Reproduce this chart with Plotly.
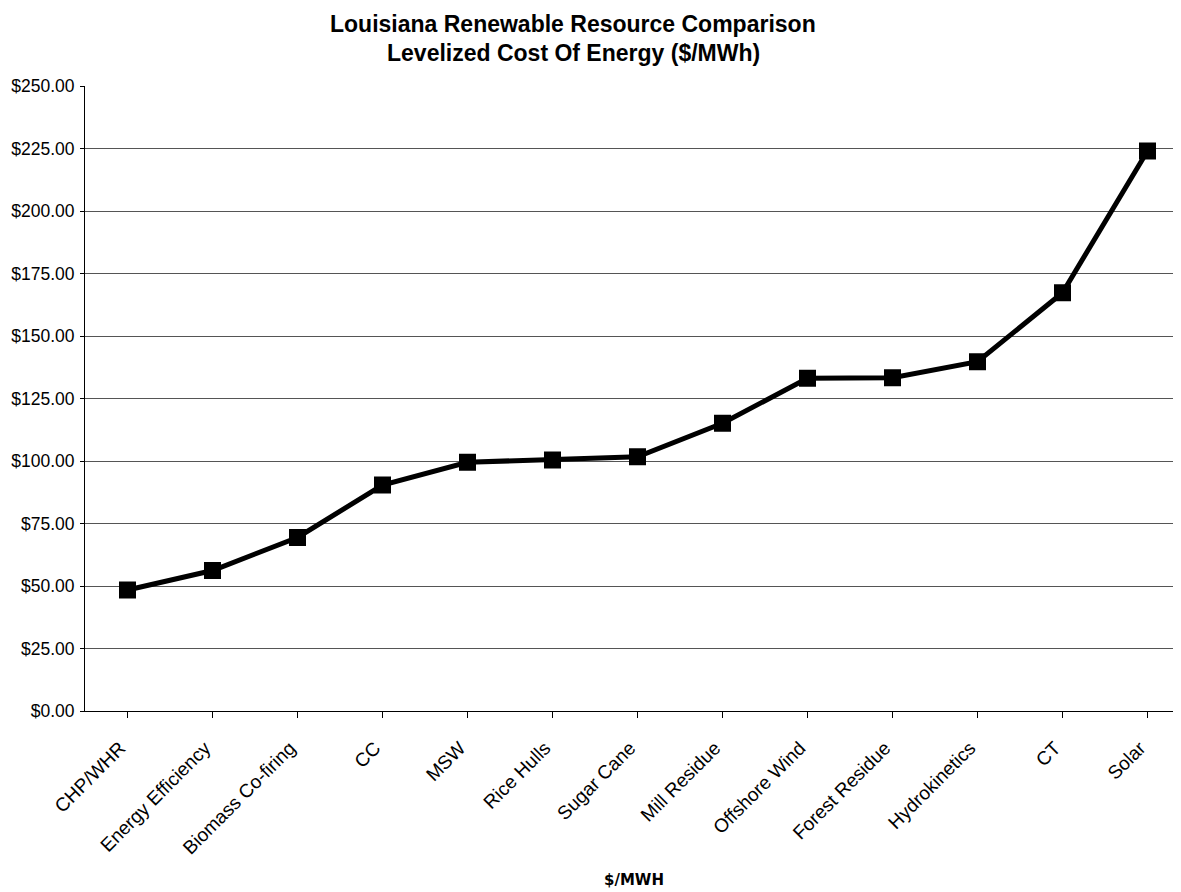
import plotly.graph_objects as go

categories = ["CHP/WHR", "Energy Efficiency", "Biomass Co-firing", "CC", "MSW",
              "Rice Hulls", "Sugar Cane", "Mill Residue", "Offshore Wind",
              "Forest Residue", "Hydrokinetics", "CT", "Solar"]
values = [48.4, 56.2, 69.4, 90.4, 99.5, 100.4, 101.7, 115.1, 133.1, 133.3, 139.7, 167.3, 224.0]
y_ticks = [0, 25, 50, 75, 100, 125, 150, 175, 200, 225, 250]
y_tick_labels = ["$0.00", "$25.00", "$50.00", "$75.00", "$100.00", "$125.00",
                 "$150.00", "$175.00", "$200.00", "$225.00", "$250.00"]

title_lines = ["Louisiana Renewable Resource Comparison", "Levelized Cost Of Energy ($/MWh)"]
x_title = "$/MWH"

# page body has an 8px default margin; size the figure to fit the window
OFF = 8
W, H = 1181 - OFF, 892 - OFF
L, R, T, B = 85 - OFF, 0, 86 - OFF, 892 - 711
pw = W - L - R
ph = H - T - B
right_edge = pw / 85.0 - 0.5


def px_y(page_y):
    return (711 - page_y) / ph


def px_x(page_x):
    return (page_x - 85) / pw


fig = go.Figure()
fig.add_trace(go.Scatter(
    x=list(range(len(categories))), y=values, mode="lines+markers",
    line=dict(color="black", width=5),
    marker=dict(symbol="square", size=17, color="black"),
    showlegend=False, cliponaxis=False,
))

fig.update_layout(
    width=W, height=H,
    margin=dict(l=L, r=R, t=T, b=B, pad=0, autoexpand=False),
    paper_bgcolor="white", plot_bgcolor="white",
    font=dict(family="Liberation Sans, Arial, sans-serif", size=17, color="black"),
    xaxis=dict(
        range=[-0.5, right_edge], automargin=False,
        tickmode="array", tickvals=list(range(len(categories))),
        ticktext=[c + "\u00a0\u00a0" for c in categories],
        tickangle=-45, ticks="outside", ticklen=6, tickcolor="black",
        showgrid=False, showline=True, linecolor="black", linewidth=1,
        zeroline=False, tickfont=dict(size=19), tickson="boundaries",
        ticklabelstandoff=4,
    ),
    yaxis=dict(
        range=[0, 250], automargin=False,
        tickmode="array", tickvals=y_ticks, ticktext=y_tick_labels,
        ticks="outside", ticklen=4, tickcolor="black",
        showgrid=True, gridcolor="#555555", gridwidth=1,
        showline=True, linecolor="black", linewidth=1,
        zeroline=False, tickfont=dict(size=17.5), ticklabelstandoff=2,
    ),
)

fig.add_annotation(text="<b>" + title_lines[0] + "</b>", xref="paper", yref="paper",
                   x=px_x(573), y=px_y(24), showarrow=False,
                   xanchor="center", yanchor="middle",
                   font=dict(size=23, family="Liberation Sans, Arial, sans-serif"))
fig.add_annotation(text="<b>" + title_lines[1] + "</b>", xref="paper", yref="paper",
                   x=px_x(573), y=px_y(53), showarrow=False,
                   xanchor="center", yanchor="middle",
                   font=dict(size=23, family="Liberation Sans, Arial, sans-serif"))
fig.add_annotation(text="<b>" + x_title + "</b>", xref="paper", yref="paper",
                   x=px_x(634), y=px_y(880), showarrow=False,
                   xanchor="center", yanchor="middle",
                   font=dict(size=15, family="DejaVu Sans, sans-serif"))

fig.write_html("out.html")
